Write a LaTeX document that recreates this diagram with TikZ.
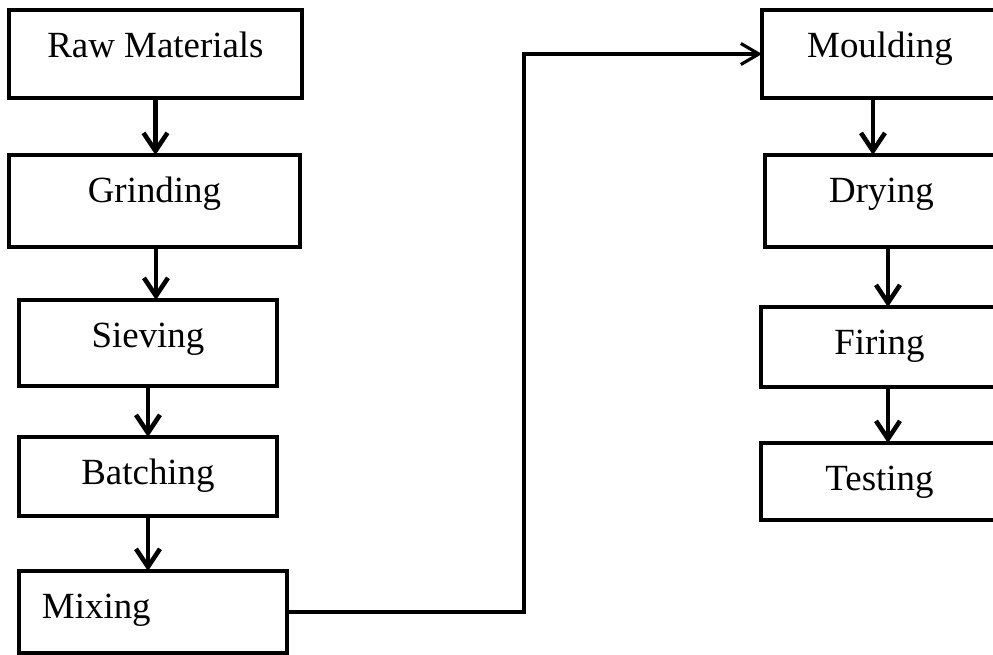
\documentclass[tikz,border=0pt]{standalone}
\usepackage{fontspec}
\setmainfont{Liberation Serif}
\usetikzlibrary{arrows.meta}
\newcommand\stagefont{\fontsize{21}{25}\selectfont}
\tikzset{
  stage/.style={draw, line width=2.6pt, anchor=north west, outer sep=0pt,
    inner xsep=0pt, inner ysep=0pt, text height=0.95cm, font=\stagefont},
  flow/.style={line width=2.6pt, -{Straight Barb[length=0.36cm,width=0.48cm]}},
  link/.style={line width=1.8pt, -{Straight Barb[length=0.36cm,width=0.42cm]}}
}

\begin{document}
\begin{tikzpicture}[x=0.02cm, y=-0.02cm]
		%%%%% START %%%%%
		\useasboundingbox (0,0) rectangle (993,655);
		\clip (0,0) rectangle (993,655);
		
		% left column
		\node[stage, minimum width=5.86cm, text depth=0.81cm] (raw) at (9,10) {Raw Materials};
		\node[stage, minimum width=5.82cm, text depth=0.89cm] (grind) at (9,155) {Grinding};
		\node[stage, minimum width=5.16cm, text depth=0.77cm] (sieve) at (19,300) {Sieving};
		\node[stage, minimum width=5.16cm, text depth=0.63cm] (batch) at (19,437) {Batching};
		\node[stage, text width=4.44cm, inner xsep=0.46cm, align=left, text depth=0.69cm] (mix) at (19,571) {Mixing};
		
		% right column
		\node[stage, minimum width=4.72cm, text depth=0.81cm] (mould) at (762,10) {Moulding};
		\node[stage, minimum width=4.66cm, text depth=0.89cm] (dry) at (765,155) {Drying};
		\node[stage, minimum width=4.74cm, text depth=0.65cm] (fire) at (761,307) {Firing};
		\node[stage, minimum width=4.74cm, text depth=0.59cm] (test) at (761,443) {Testing};
		
		\draw[flow] (raw.south) -- (raw.south |- grind.north);
		\draw[flow] ([xshift=0.03cm]grind.south) -- ([xshift=0.03cm]grind.south |- sieve.north);
		\draw[flow] (sieve.south) -- (sieve.south |- batch.north);
		\draw[flow] (batch.south) -- (batch.south |- mix.north);
		
		\draw[link] (mix.east) -- ++(237,0) |- (mould.west);
		
		\draw[flow] ([xshift=-0.14cm]mould.south) -- ([xshift=-0.14cm]mould.south |- dry.north);
		\draw[flow] ([xshift=0.13cm]dry.south) -- ([xshift=0.13cm]dry.south |- fire.north);
		\draw[flow] ([xshift=0.17cm]fire.south) -- ([xshift=0.17cm]fire.south |- test.north);
		
		%%%%% END %%%%%
\end{tikzpicture}
\end{document}
